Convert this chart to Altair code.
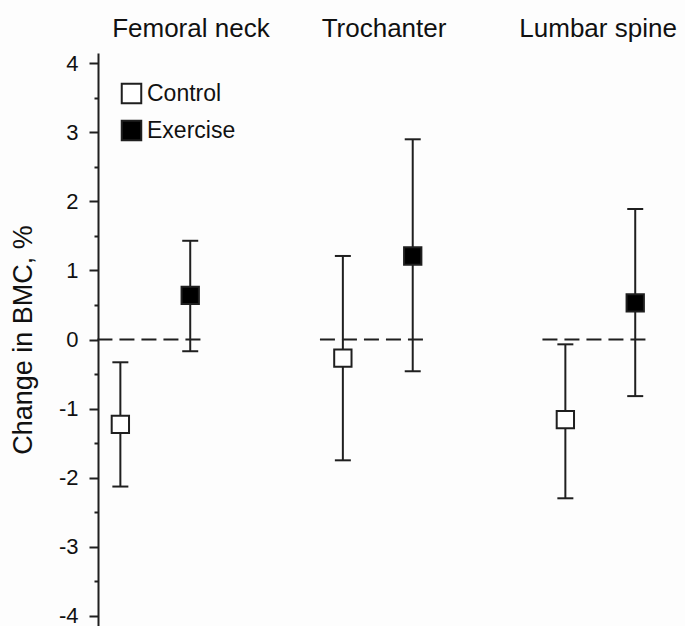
import altair as alt
import pandas as pd

# ---- data ----
groups = ["Femoral neck", "Trochanter", "Lumbar spine"]
series = ["Control", "Exercise"]
control_mean = [-1.23, -0.27, -1.16]
control_lo = [-2.13, -1.75, -2.30]
control_hi = [-0.33, 1.21, -0.07]
exercise_mean = [0.64, 1.21, 0.53]
exercise_lo = [-0.17, -0.46, -0.82]
exercise_hi = [1.43, 2.90, 1.89]
y_ticks = [-4, -3.5, -3, -2.5, -2, -1.5, -1, -0.5, 0, 0.5, 1, 1.5, 2, 2.5, 3, 3.5, 4]

rows = []
for i, g in enumerate(groups):
    rows.append(dict(group=g, gi=i + 1, series="Control",
                     mean=control_mean[i], lo=control_lo[i], hi=control_hi[i]))
    rows.append(dict(group=g, gi=i + 1, series="Exercise",
                     mean=exercise_mean[i], lo=exercise_lo[i], hi=exercise_hi[i]))
df = pd.DataFrame(rows)
gdf = pd.DataFrame({"group": groups, "gi": [1, 2, 3]})

FONT = "Liberation Sans"
INK = "#1f1f1f"

xscale = alt.Scale(domain=[0.7425, 3.3807], nice=False, zero=False)
yscale = alt.Scale(domain=[-4.15, 4.15], nice=False, zero=False)

yaxis = alt.Axis(
    values=y_ticks,
    labelExpr="datum.value % 1 === 0 ? '' + datum.value : ''",
    tickSize={"condition": {"test": "datum.value % 1 === 0", "value": 9}, "value": 4},
    tickColor=INK, tickWidth=2,
    domainColor=INK, domainWidth=2,
    grid=False,
    labelFont=FONT, labelFontSize=22, labelColor="#111", labelPadding=11,
    title="Change in BMC, %",
    titleFont=FONT, titleFontSize=27, titleFontWeight="normal", titleColor="#111",
    titleX=-75, titleY=286.5, titleAngle=-90, titleAlign="center", titleBaseline="middle",
)

base = alt.Chart(df).transform_calculate(
    xpos="datum.gi + (datum.series === 'Control' ? -0.157 : 0.157)"
)
X = alt.X("xpos:Q", scale=xscale, axis=None)

zero_line = alt.Chart(gdf).transform_calculate(
    x1="datum.gi - 0.26", x2="datum.gi + 0.207"
).mark_rule(color=INK, strokeWidth=2, strokeDash=[15, 7]).encode(
    x=alt.X("x1:Q", scale=xscale, axis=None),
    x2="x2:Q",
    y=alt.Y(datum=0, scale=yscale, axis=yaxis),
)

bars = base.mark_rule(color=INK, strokeWidth=2).encode(
    x=X,
    y=alt.Y("lo:Q", scale=yscale, axis=yaxis),
    y2="hi:Q",
)
cap_lo = base.mark_tick(orient="horizontal", size=16, thickness=2, color=INK, opacity=1).encode(
    x=X, y=alt.Y("lo:Q", scale=yscale, axis=yaxis)
)
cap_hi = base.mark_tick(orient="horizontal", size=16, thickness=2, color=INK, opacity=1).encode(
    x=X, y=alt.Y("hi:Q", scale=yscale, axis=yaxis)
)

points = base.mark_point(shape="square", filled=True, size=300, stroke=INK,
                         strokeWidth=2, opacity=1).encode(
    x=X,
    y=alt.Y("mean:Q", scale=yscale, axis=yaxis),
    fill=alt.Fill(
        "series:N",
        scale=alt.Scale(domain=series, range=["white", "black"]),
        legend=alt.Legend(
            title=None, orient="none", legendX=22, legendY=29,
            symbolType="square", symbolSize=380, symbolStrokeWidth=2,
            symbolStrokeColor=INK, symbolOpacity=1,
            labelFont=FONT, labelFontSize=23, labelColor="#111",
            labelOffset=4, rowPadding=8, padding=0,
        ),
    ),
)

titles = alt.Chart(gdf).transform_calculate(
    tx="datum.gi + (datum.gi === 1 ? 0.16 : datum.gi === 2 ? 0.028 : -0.01)"
).mark_text(font=FONT, fontSize=26, color="#111", baseline="alphabetic", align="center").encode(
    x=alt.X("tx:Q", scale=xscale, axis=None),
    y=alt.value(-16),
    text="group:N",
)

chart = alt.layer(zero_line, bars, cap_lo, cap_hi, points, titles).properties(
    width=587, height=573,
    padding={"left": 98, "top": 53, "right": 0, "bottom": 0},
    autosize="none",
    background="#fdfdfd",
).configure_view(stroke=None)

chart.save("out.html", embed_options={"renderer": "svg", "actions": False})
